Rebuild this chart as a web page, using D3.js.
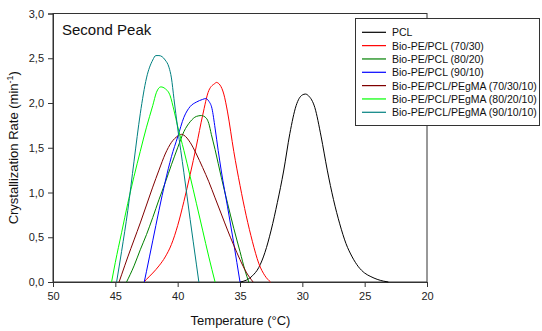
<!DOCTYPE html>
<html>
<head>
<meta charset="utf-8">
<script src="https://cdn.jsdelivr.net/npm/d3@7"></script>
<style>
  body { margin: 0; background: #fff; }
  svg { display: block; font-family: "Liberation Sans", Arial, sans-serif; }
</style>
</head>
<body>
<div id="chart"></div>
<script>
// [temperature °C, crystallization rate min^-1]
const pcl = [[35, 0], [34.5, 0.02], [34, 0.07], [33.5, 0.16], [33, 0.33], [32.5, 0.58], [32, 0.89], [31.5, 1.24], [31, 1.66], [30.5, 1.97], [30, 2.09], [29.75, 2.1], [29.5, 2.08], [29, 1.95], [28.5, 1.63], [28, 1.25], [27.5, 0.92], [27, 0.65], [26.5, 0.43], [26, 0.28], [25.5, 0.17], [25, 0.1], [24.5, 0.06], [24, 0.03], [23.5, 0.01], [23.1, 0]]
const pePcl7030 = [[42.7, 0], [42.5, 0.03], [42, 0.1], [41.5, 0.18], [41, 0.28], [40.5, 0.42], [40, 0.63], [39.5, 0.9], [39, 1.2], [38.5, 1.52], [38, 1.86], [37.5, 2.14], [37, 2.22], [36.9, 2.23], [36.6, 2.2], [36.3, 2.1], [36, 1.9], [35.5, 1.46], [35, 1.08], [34.5, 0.74], [34, 0.45], [33.5, 0.21], [33, 0.07], [32.55, 0]]
const pePcl8020 = [[44.1, 0], [43.5, 0.18], [43, 0.36], [42.5, 0.53], [42, 0.72], [41.5, 0.92], [41, 1.11], [40.5, 1.31], [40, 1.5], [39.5, 1.68], [39, 1.79], [38.5, 1.85], [38.1, 1.86], [37.7, 1.83], [37.5, 1.77], [37.3, 1.65], [37, 1.48], [36.5, 1.17], [36, 0.88], [35.5, 0.6], [35, 0.34], [34.6, 0.13], [34.3, 0]]
const pePcl9010 = [[42.68, 0], [42.5, 0.12], [42, 0.46], [41.5, 0.8], [41, 1.12], [40.5, 1.4], [40, 1.62], [39.5, 1.84], [39, 1.96], [38.5, 2.01], [38, 2.04], [37.75, 2.05], [37.5, 2.02], [37.25, 1.94], [37, 1.72], [36.75, 1.47], [36.5, 1.24], [36, 0.84], [35.5, 0.43], [35, 0]]
const peg703010 = [[44.7, 0], [44.5, 0.08], [44, 0.28], [43.5, 0.47], [43, 0.66], [42.5, 0.86], [42, 1.06], [41.5, 1.25], [41, 1.43], [40.5, 1.56], [40, 1.63], [39.7, 1.65], [39.5, 1.64], [39, 1.56], [38.5, 1.43], [38, 1.28], [37.5, 1.12], [37, 0.94], [36.5, 0.76], [36, 0.58], [35.5, 0.41], [35, 0.25], [34.5, 0.11], [33.95, 0]]
const peg802010 = [[45.3, 0], [45, 0.22], [44.5, 0.55], [44, 0.88], [43.5, 1.18], [43, 1.46], [42.5, 1.73], [42, 1.97], [41.7, 2.12], [41.35, 2.18], [41, 2.16], [40.6, 2.08], [40.3, 1.92], [40, 1.74], [39.5, 1.47], [39, 1.18], [38.5, 0.88], [38, 0.58], [37.5, 0.28], [37, 0]]
const peg901010 = [[44.9, 0], [44.5, 0.34], [44, 0.8], [43.5, 1.35], [43, 1.88], [42.5, 2.28], [42, 2.48], [41.75, 2.53], [41.5, 2.53], [41, 2.48], [40.7, 2.4], [40.5, 2.28], [40.3, 2.05], [40, 1.72], [39.5, 1.22], [39, 0.7], [38.5, 0.2], [38.3, 0]]

const seriesNames = ['PCL', 'Bio-PE/PCL (70/30)', 'Bio-PE/PCL (80/20)', 'Bio-PE/PCL (90/10)',
    'Bio-PE/PCL/PEgMA (70/30/10)', 'Bio-PE/PCL/PEgMA (80/20/10)', 'Bio-PE/PCL/PEgMA (90/10/10)']
const seriesColors = ['#000000', '#ff0000', '#008000', '#0000ff', '#800000', '#00ff00', '#008080']
const seriesData = [pcl, pePcl7030, pePcl8020, pePcl9010, peg703010, peg802010, peg901010]

const xTicks = [50, 45, 40, 35, 30, 25, 20]
const yTicks = [0, 0.5, 1, 1.5, 2, 2.5, 3]

const width = 542
const height = 331
const padding = { top: 13.5, right: 115, bottom: 49, left: 53 }
const axisColor = '#333'

const svg = d3.select('#chart').append('svg')
    .attr('width', width)
    .attr('height', height)

const x = d3.scaleLinear()
    .domain([50, 20])
    .range([padding.left, width - padding.right])
const y = d3.scaleLinear()
    .domain([0, 3])
    .range([height - padding.bottom, padding.top])

// frame (top + right edges)
svg.append('rect')
    .attr('x', x(50))
    .attr('y', y(3))
    .attr('width', x(20) - x(50))
    .attr('height', y(0) - y(3))
    .attr('fill', 'none')
    .attr('stroke', axisColor)
    .attr('stroke-width', 1)

const fmt = d => d3.format('.1f')(d).replace('.', ',')

const yAxis = svg.append('g')
    .attr('transform', `translate(${x(50)},0)`)
    .call(d3.axisLeft(y).tickValues(yTicks).tickFormat(fmt).tickSize(5).tickPadding(4))
yAxis.select('.domain').attr('stroke', axisColor)
yAxis.selectAll('.tick line').attr('stroke', axisColor)
yAxis.selectAll('text').attr('font-size', 11).attr('fill', '#222')
    .style('font-family', '"Liberation Sans", Arial, sans-serif')

const xAxis = svg.append('g')
    .attr('transform', `translate(0,${y(0)})`)
    .call(d3.axisBottom(x).tickValues(xTicks).tickFormat(d3.format('d')).tickSize(5).tickPadding(5))
xAxis.select('.domain').attr('stroke', axisColor)
xAxis.selectAll('.tick line').attr('stroke', axisColor)
xAxis.selectAll('text').attr('font-size', 11).attr('fill', '#222')
    .style('font-family', '"Liberation Sans", Arial, sans-serif')

const line = d3.line()
    .x(d => x(d[0]))
    .y(d => y(d[1]))
    .curve(d3.curveMonotoneX)

svg.append('g').selectAll('path')
    .data(seriesData)
    .enter()
    .append('path')
    .attr('d', d => line(d))
    .attr('fill', 'none')
    .attr('stroke', (d, i) => seriesColors[i])
    .attr('stroke-width', 1)

// title inside plot
svg.append('text')
    .attr('x', 62)
    .attr('y', 35)
    .attr('font-size', 15)
    .attr('fill', '#111')
    .text('Second Peak')

// axis titles
svg.append('text')
    .attr('x', (x(50) + x(20)) / 2 + 0.5)
    .attr('y', 325)
    .attr('text-anchor', 'middle')
    .attr('font-size', 13)
    .attr('fill', '#111')
    .text('Temperature (°C)')

const yLabel = svg.append('text')
    .attr('transform', `translate(18,${(y(0) + y(3)) / 2}) rotate(-90)`)
    .attr('text-anchor', 'middle')
    .attr('font-size', 13)
    .attr('fill', '#111')
yLabel.append('tspan').text('Crystallization Rate (min')
yLabel.append('tspan').attr('font-size', 9).attr('dy', -5).text('-1')
yLabel.append('tspan').attr('dy', 5).text(')')

// legend
const legend = svg.append('g')
legend.append('rect')
    .attr('x', 355.5)
    .attr('y', 18.5)
    .attr('width', 184)
    .attr('height', 107)
    .attr('fill', '#fff')
    .attr('stroke', axisColor)

const rows = legend.selectAll('g.row')
    .data(seriesNames)
    .enter()
    .append('g')
    .attr('class', 'row')
    .attr('transform', (d, i) => `translate(0,${32.3 + i * 13.33})`)
rows.append('line')
    .attr('x1', 362)
    .attr('x2', 386)
    .attr('stroke', (d, i) => seriesColors[i])
    .attr('stroke-width', 1.2)
rows.append('text')
    .attr('x', 392)
    .attr('y', 4)
    .attr('font-size', 10.5)
    .attr('fill', '#111')
    .text(d => d)
</script>
</body>
</html>
